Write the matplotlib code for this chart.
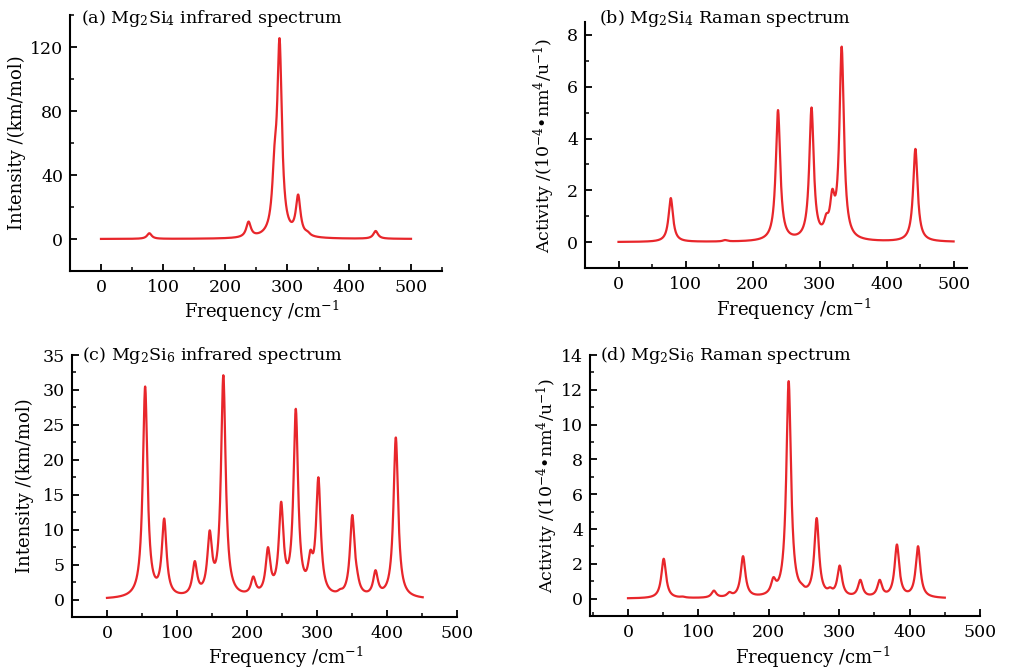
import numpy as np
import matplotlib
matplotlib.use("Agg")
import matplotlib.pyplot as plt
from matplotlib.ticker import MultipleLocator

plt.rcParams['font.family'] = ['DejaVu Serif']
plt.rcParams['mathtext.fontset'] = 'dejavuserif'

# ---- data: peak positions (cm^-1) and observed curve heights at them ----
a_pos = [78, 238, 280, 288, 318, 333, 443]
a_val = [3.6, 10.9, 60, 125.5, 27.8, 5.0, 5.0]

b_pos = [78, 159, 238, 288, 310, 319, 333, 443]
b_val = [1.7, 0.08, 5.1, 5.2, 1.1, 2.05, 7.55, 3.6]

c_pos = [54.5, 81.7, 125.4, 146.7, 166.2, 209, 230, 248.8, 269.7, 290.6,
         302, 333, 350.4, 357, 383.6, 412.6]
c_val = [30.5, 11.6, 5.5, 9.9, 32.1, 3.3, 7.5, 14.0, 27.3, 7.1,
         17.5, 1.5, 12.1, 4.5, 4.2, 23.2]

d_pos = [50.7, 77.7, 122, 144, 163.4, 206.5, 228.2, 246.7, 268, 287,
         300.7, 330, 357.5, 382, 412]
d_val = [2.29, 0.12, 0.46, 0.38, 2.44, 1.23, 12.5, 0.86, 4.63, 0.65,
         1.9, 1.08, 1.08, 3.11, 3.01]

titles = [r"(a) Mg$_2$Si$_4$ infrared spectrum",
          r"(b) Mg$_2$Si$_4$ Raman spectrum",
          r"(c) Mg$_2$Si$_6$ infrared spectrum",
          r"(d) Mg$_2$Si$_6$ Raman spectrum"]
ir_label = "Intensity /(km/mol)"
raman_label = "Activity /(10$^{-4}$\u2022nm$^{4}$/u$^{-1}$)"
x_label = "Frequency /cm$^{-1}$"


def lor(x, x0, g):
    return 1.0 / (1.0 + ((x - x0) / g) ** 2)


def spectrum(pos, val, g, xmax):
    pos = np.asarray(pos, float)
    val = np.asarray(val, float)
    A = lor(pos[:, None], pos[None, :], g)
    amp = np.linalg.solve(A, val)
    amp = np.clip(amp, 0, None)
    x = np.linspace(0, xmax, 2001)
    y = (amp[None, :] * lor(x[:, None], pos[None, :], g)).sum(axis=1)
    return x, y


fig = plt.figure(figsize=(10.13, 6.70), dpi=100)
W, H = 1013, 670


def add_ax(l, r, t, b):
    return fig.add_axes([l / W, 1 - b / H, (r - l) / W, (b - t) / H])


red = '#e8262b'
panels = [
    dict(box=(70, 442, 15, 271), pos=a_pos, val=a_val, g=4.5, xmax=500,
         xlim=(-50, 550), ylim=(-20, 140), ymaj=40, ymin=20, ylab=ir_label,
         ylx=-0.142, xlx=0.516, xly=-0.157, ys=13, toff=(11, -8)),
    dict(box=(585, 967, 22, 268), pos=b_pos, val=b_val, g=4.0, xmax=500,
         xlim=(-50, 520), ylim=(-1, 8.5), ymaj=2, ymin=1, ylab=raman_label,
         ylx=-0.105, xlx=0.547, xly=-0.167, ys=12.5, toff=(14, -1)),
    dict(box=(72, 457, 355, 617), pos=c_pos, val=c_val, g=4.0, xmax=451,
         xlim=(-50, 500), ylim=(-2.5, 35), ymaj=5, ymin=2.5, ylab=ir_label,
         ylx=-0.122, xlx=0.556, xly=-0.156, ys=13, toff=(10, -5)),
    dict(box=(590, 980, 355, 616), pos=d_pos, val=d_val, g=4.0, xmax=450,
         xlim=(-54, 500), ylim=(-1, 14), ymaj=2, ymin=1, ylab=raman_label,
         ylx=-0.108, xlx=0.572, xly=-0.157, ys=12.5, toff=(10, -5)),
]

for p, title in zip(panels, titles):
    ax = add_ax(*p['box'])
    x, y = spectrum(p['pos'], p['val'], p['g'], p['xmax'])
    ax.plot(x, y, color=red, lw=1.6)
    ax.set_xlim(*p['xlim'])
    ax.set_ylim(*p['ylim'])
    ax.xaxis.set_major_locator(MultipleLocator(100))
    ax.xaxis.set_minor_locator(MultipleLocator(50))
    ax.yaxis.set_major_locator(MultipleLocator(p['ymaj']))
    ax.yaxis.set_minor_locator(MultipleLocator(p['ymin']))
    ax.set_xticks([0, 100, 200, 300, 400, 500])
    for s in ['top', 'right']:
        ax.spines[s].set_visible(False)
    for s in ['left', 'bottom']:
        ax.spines[s].set_linewidth(1.5)
    ax.tick_params(which='major', direction='in', length=5, width=1.3,
                   labelsize=12.5)
    ax.tick_params(axis='x', which='major', pad=6)
    ax.tick_params(axis='y', which='major', pad=5)
    ax.tick_params(which='minor', direction='in', length=3, width=1.1)
    ax.set_ylabel(p['ylab'], fontsize=p['ys'])
    ax.yaxis.label.set_verticalalignment('center')
    ax.yaxis.set_label_coords(p['ylx'], 0.5)
    ax.set_xlabel(x_label, fontsize=13)
    ax.xaxis.set_label_coords(p['xlx'], p['xly'])
    ax.xaxis.label.set_verticalalignment('center')
    ax.annotate(title, xy=(0, 1), xycoords='axes fraction',
                xytext=p['toff'], textcoords='offset pixels',
                va='baseline', ha='left', fontsize=12.6)

fig.savefig("out.png", dpi=100)
